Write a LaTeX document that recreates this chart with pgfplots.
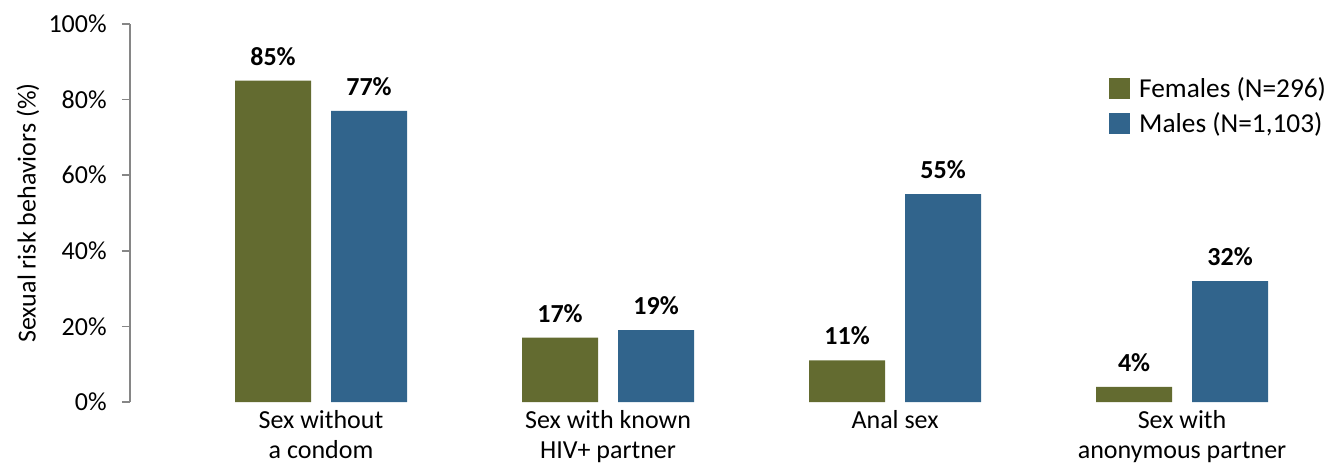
\documentclass[border=0pt]{standalone}
\usepackage{fontspec}
\setmainfont{Carlito}
\usepackage{pgfplots}
\pgfplotsset{compat=1.18}
\definecolor{fem}{RGB}{99,107,48}
\definecolor{mal}{RGB}{49,100,140}
\definecolor{axgray}{RGB}{134,134,134}
\newcommand{\fs}{\fontsize{19.5pt}{22.5pt}\selectfont}
\newcommand{\fl}{\fontsize{20.5pt}{23pt}\selectfont}
\begin{document}
\begin{tikzpicture}
\useasboundingbox (-97.5pt,-46.5pt) rectangle (900.75pt,301.5pt);
\begin{axis}[
  scale only axis, width=870pt, height=283.5pt,
  xmin=-0.6655, xmax=3.376, ymin=0, ymax=100,
  ybar=15pt, bar width=57pt,
  axis lines*=left,
  x axis line style={draw=none},
  y axis line style={draw=axgray, line width=1.2pt},
  /pgf/number format/assume math mode=true,
  ytick={0,20,...,100},
  yticklabel={\pgfmathprintnumber{\tick}\%},
  y tick label style={font=\fs, black, xshift=-8pt},
  ytick style={draw=axgray, line width=1.2pt},
  tick align=outside,
  major tick length=6pt,
  xtick={0,1,2,3},
  x tick style={draw=none},
  xticklabels={{Sex without\\a condom},{Sex with known\\HIV+ partner},{Anal sex},{Sex with\\anonymous partner}},
  x tick label style={font=\fs, align=center, text depth=0pt, yshift=3pt},
  ylabel={Sexual risk behaviors (\%)},
  ylabel style={font=\fs, at={(axis description cs:-0.0879,0.5)}, anchor=center},
  nodes near coords={\pgfmathprintnumber{\pgfplotspointmeta}\%},
  nodes near coords style={font=\fs\bfseries, black, yshift=8pt},
  legend style={draw=none, fill=none, font=\fl, at={(1.037,0.874)}, anchor=north east, row sep=6pt, cells={anchor=west}},
  legend image code/.code={\fill[#1] (0pt,-8pt) rectangle (16pt,8pt); \path (21pt,0pt);},
]
\addplot[fill=fem, draw=none] coordinates {(0,85) (1,17) (2,11) (3,4)};
\addplot[fill=mal, draw=none] coordinates {(0,77) (1,19) (2,55) (3,32)};
\legend{{Females (N=296)}, {Males (N=1,103)}}
\end{axis}
\end{tikzpicture}
\end{document}
